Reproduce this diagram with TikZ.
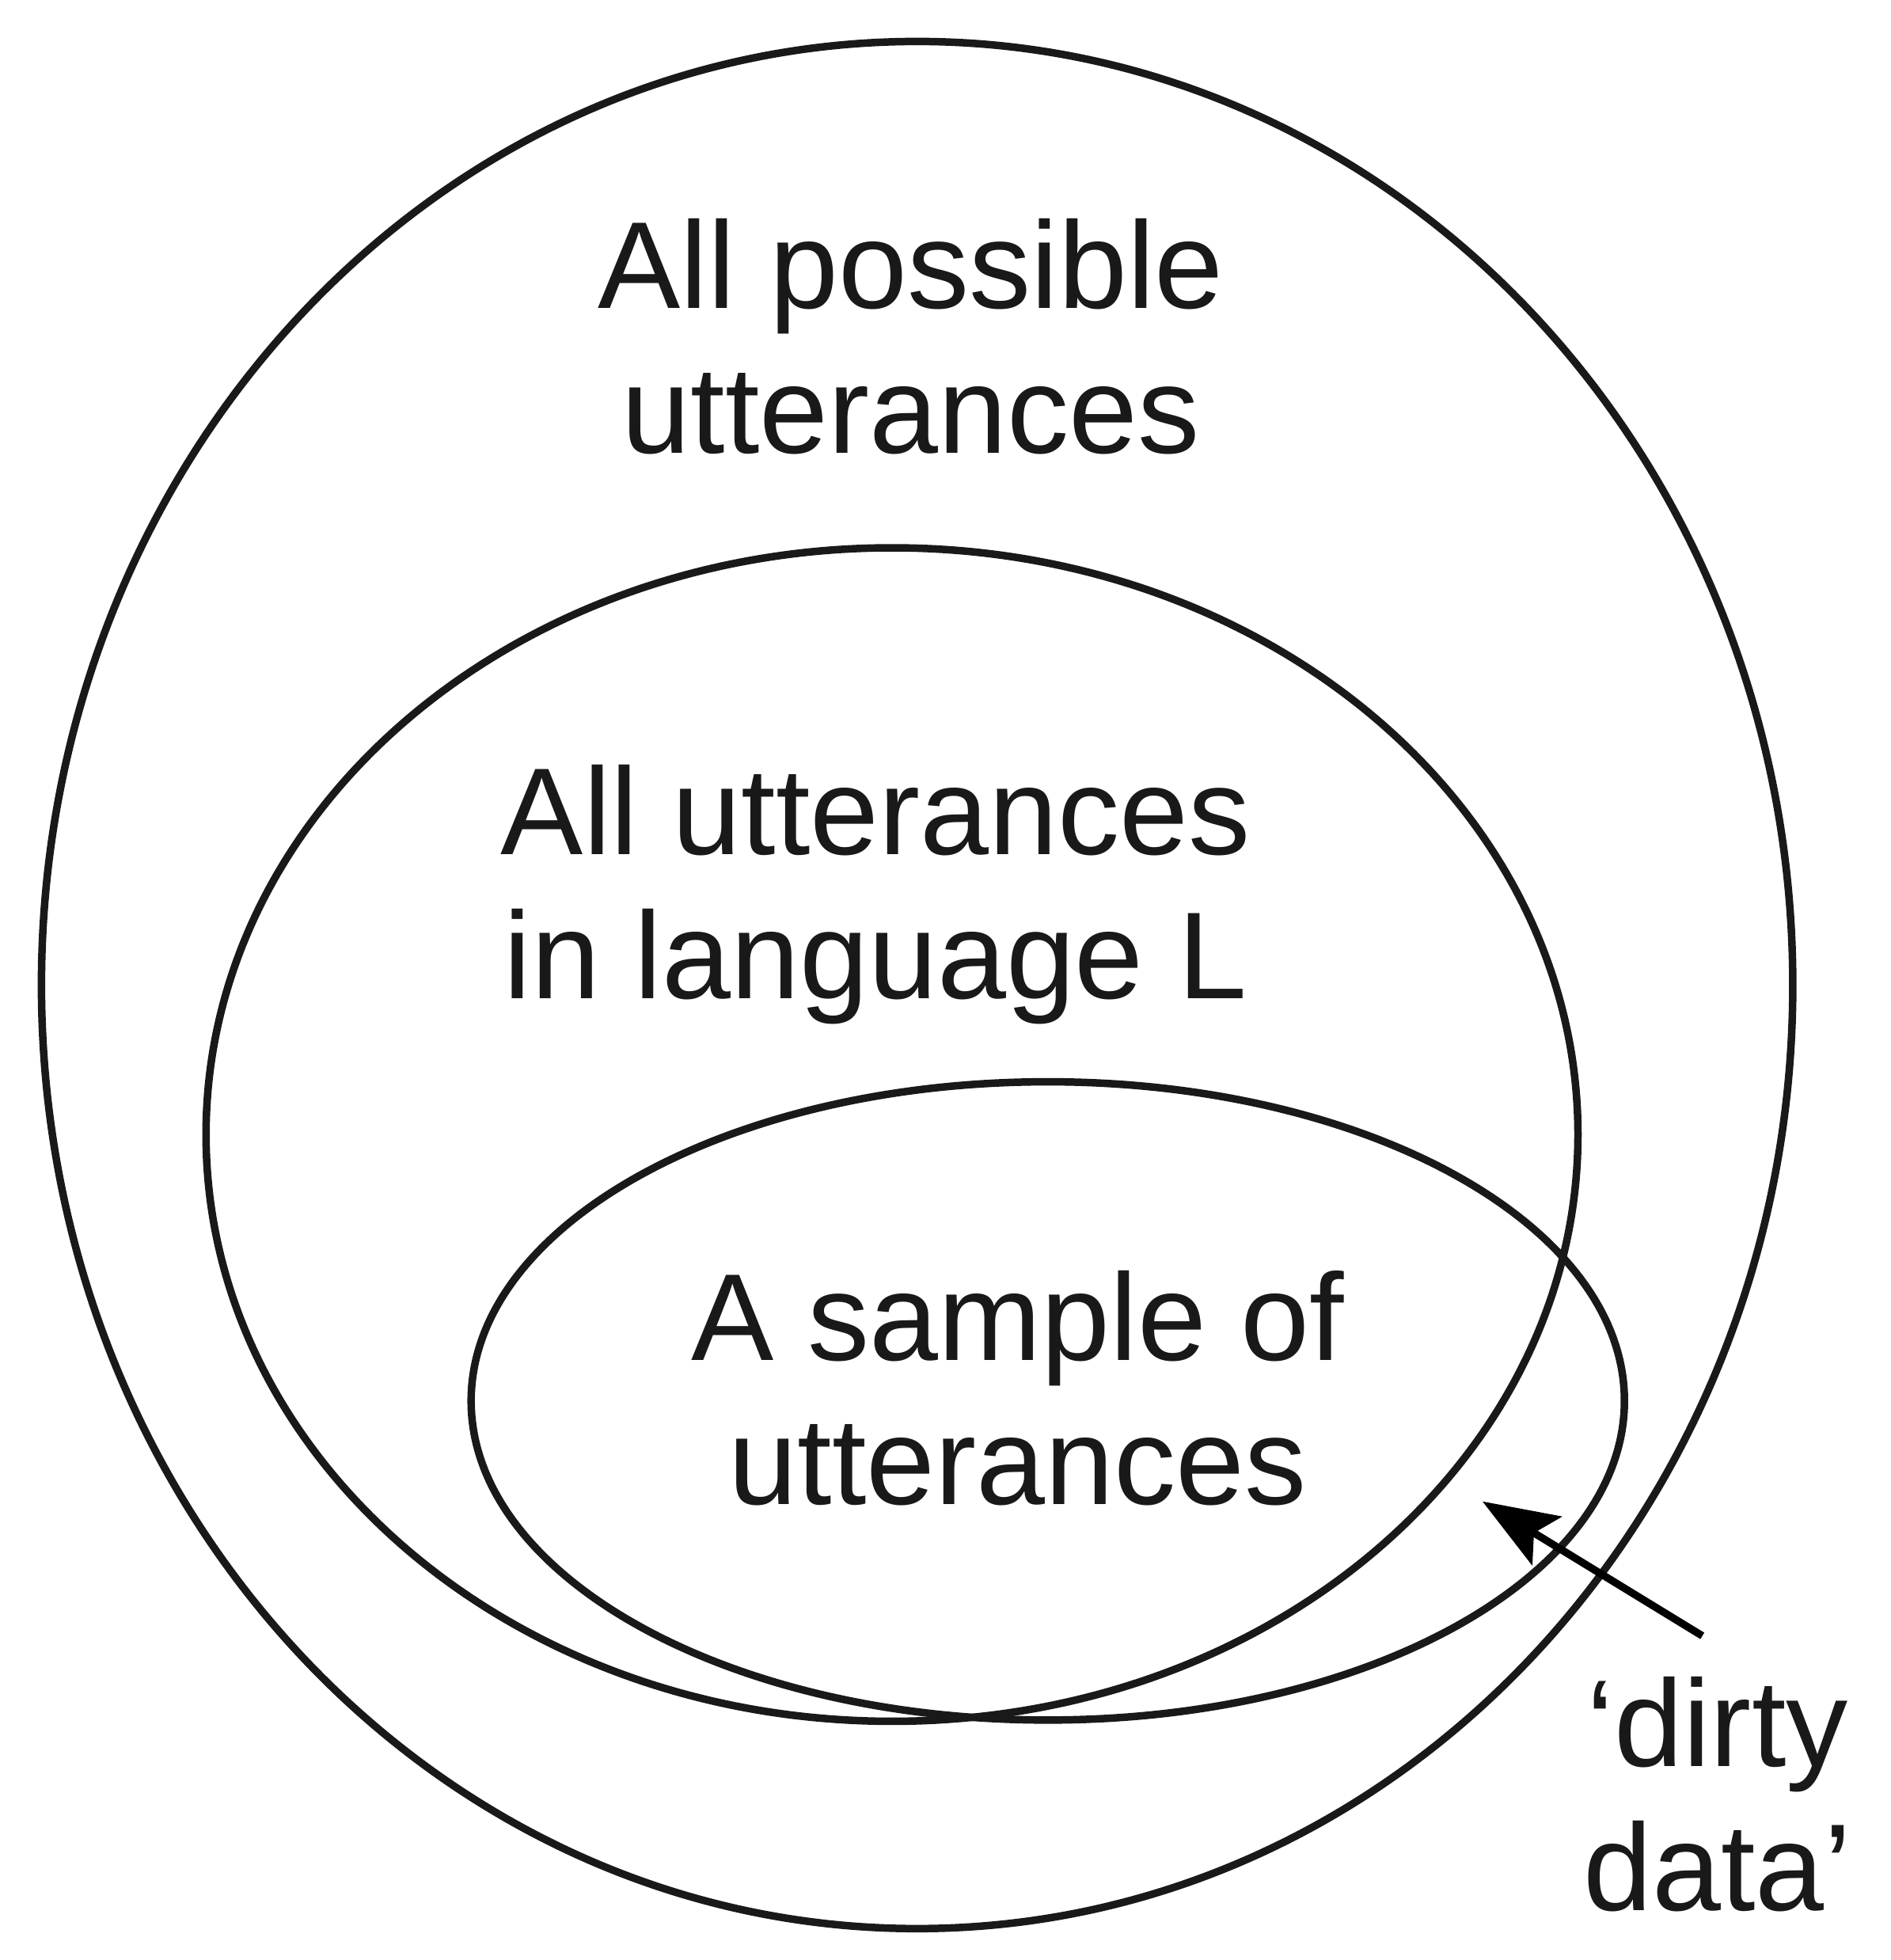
\documentclass[tikz,border=0pt]{standalone}
\usepackage{fontspec}
\setmainfont{Liberation Sans}
\usetikzlibrary{arrows.meta}
\begin{document}
\begin{tikzpicture}[x=0.01cm,y=-0.01cm,
  ring/.style={line width=1.7pt,draw=black!90},
  lbl/.style={align=center,font=\fontsize{28}{32.7}\selectfont,text=black!90,inner sep=0pt}]
\useasboundingbox (0,0) rectangle (1505,1560);
\draw[ring] (730,784) ellipse [x radius=697, y radius=751];
\draw[ring] (710,903) ellipse [x radius=546, y radius=467];
\draw[ring] (834,1115) ellipse [x radius=459, y radius=254];
\node[lbl] (a) at (725,268) {All possible\\utterances};
\node[lbl] (b) at (697,712) {All utterances\\in language L};
\node[lbl] (c) at (810,1105) {A sample of\\utterances};
\node[lbl] (d) at (1367,1428) {‘dirty\\data’};
\coordinate (s) at (1355,1302);
\coordinate (t) at (1180,1195);
\draw[line width=1.7pt,-{Stealth[length=0.6cm,width=0.45cm,inset=0.12cm]}] (s) -- (t);
\end{tikzpicture}
\end{document}
